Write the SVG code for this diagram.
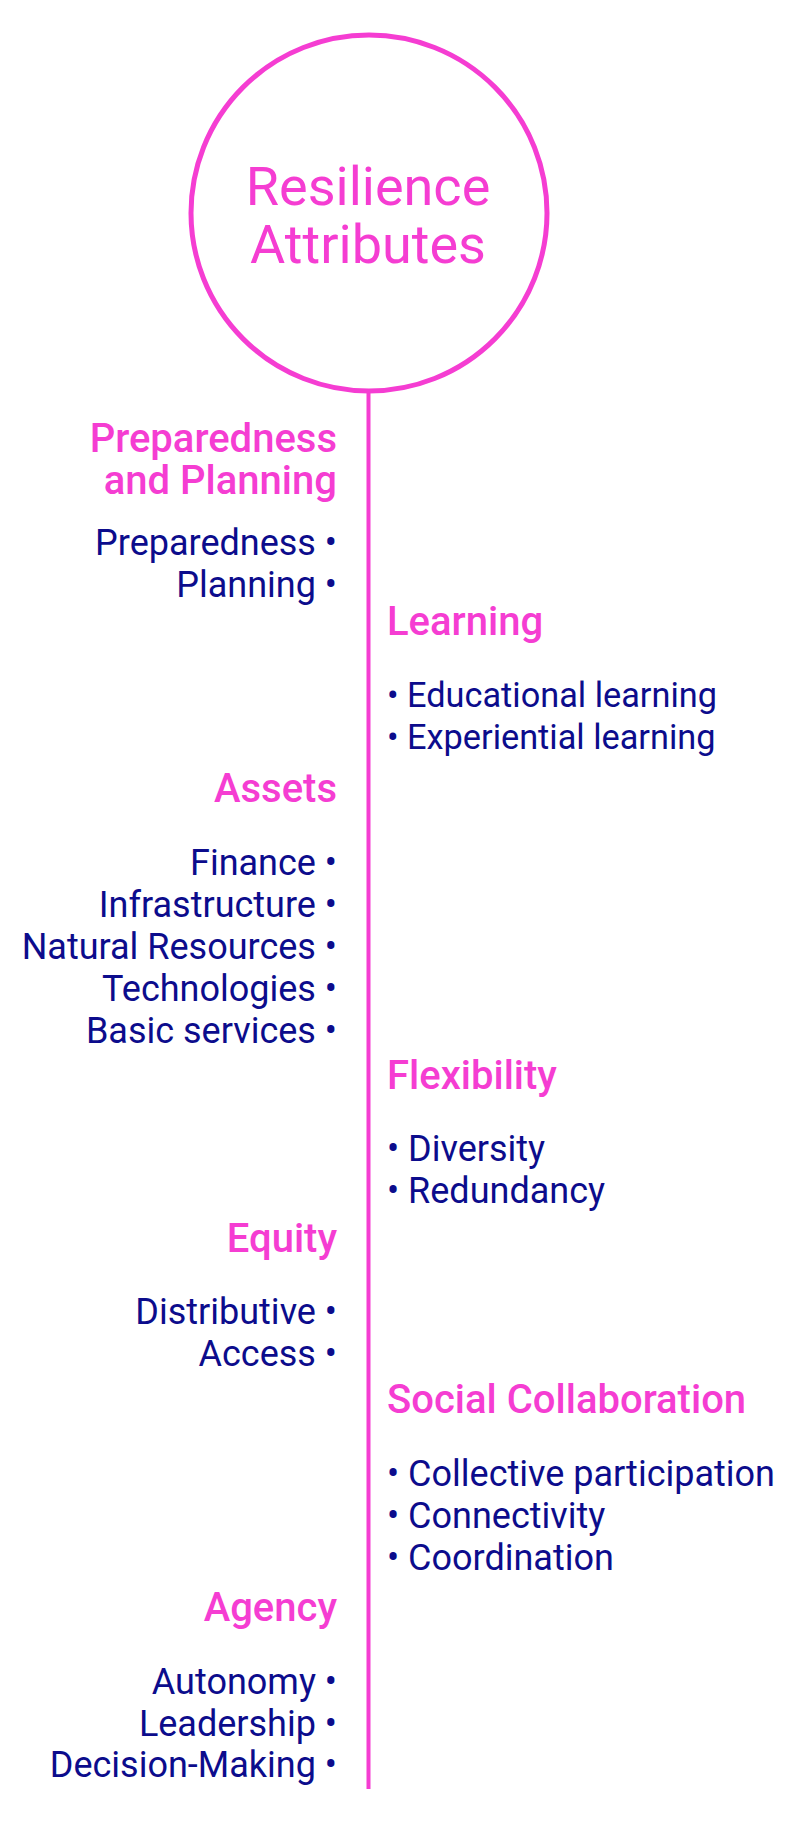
<svg xmlns="http://www.w3.org/2000/svg" width="800" height="1842" viewBox="0 0 800 1842">
<style>
.title{font-family:Roboto,"Liberation Sans",sans-serif;font-size:54px;fill:#F53DD2;text-anchor:middle}
.hd{font-family:Roboto,"Liberation Sans",sans-serif;font-size:40px;font-weight:500;fill:#F53DD2}
.it{font-family:Roboto,"Liberation Sans",sans-serif;font-size:36px;fill:#0C0C8C}
.sm{font-size:34.3px}
.l{text-anchor:end}
.r{text-anchor:start}
</style>
<rect width="800" height="1842" fill="#ffffff"/>
<g id="connectors">
<line x1="368.5" y1="393" x2="368.5" y2="1789" stroke="#F53DD2" stroke-width="4"/>
</g>
<g id="node-title">
<circle cx="369" cy="213" r="178" fill="none" stroke="#F53DD2" stroke-width="5"/>
<text class="title" x="368" y="205">Resilience</text>
<text class="title" x="368" y="263">Attributes</text>
</g>
<g id="node-preparedness">
<text class="hd l" x="337" y="452">Preparedness</text>
<text class="hd l" x="337" y="494">and Planning</text>
<text class="it l" x="337" y="555">Preparedness •</text>
<text class="it l" x="337" y="597">Planning •</text>
</g>
<g id="node-learning">
<text class="hd r" x="387" y="635">Learning</text>
<text class="it sm r" x="387" y="707">• Educational learning</text>
<text class="it sm r" x="387" y="749">• Experiential learning</text>
</g>
<g id="node-assets">
<text class="hd l" x="337" y="802">Assets</text>
<text class="it l" x="337" y="875">Finance •</text>
<text class="it l" x="337" y="917">Infrastructure •</text>
<text class="it l" x="337" y="959">Natural Resources •</text>
<text class="it l" x="337" y="1001">Technologies •</text>
<text class="it l" x="337" y="1043">Basic services •</text>
</g>
<g id="node-flexibility">
<text class="hd r" x="387" y="1089">Flexibility</text>
<text class="it r" x="387" y="1161">• Diversity</text>
<text class="it r" x="387" y="1203">• Redundancy</text>
</g>
<g id="node-equity">
<text class="hd l" x="337" y="1252">Equity</text>
<text class="it l" x="337" y="1324">Distributive •</text>
<text class="it l" x="337" y="1366">Access •</text>
</g>
<g id="node-social">
<text class="hd r" x="387" y="1413">Social Collaboration</text>
<text class="it r" x="387" y="1486">• Collective participation</text>
<text class="it r" x="387" y="1528">• Connectivity</text>
<text class="it r" x="387" y="1570">• Coordination</text>
</g>
<g id="node-agency">
<text class="hd l" x="337" y="1621">Agency</text>
<text class="it l" x="337" y="1694">Autonomy •</text>
<text class="it l" x="337" y="1736">Leadership •</text>
<text class="it l" x="337" y="1777">Decision-Making •</text>
</g>
</svg>
